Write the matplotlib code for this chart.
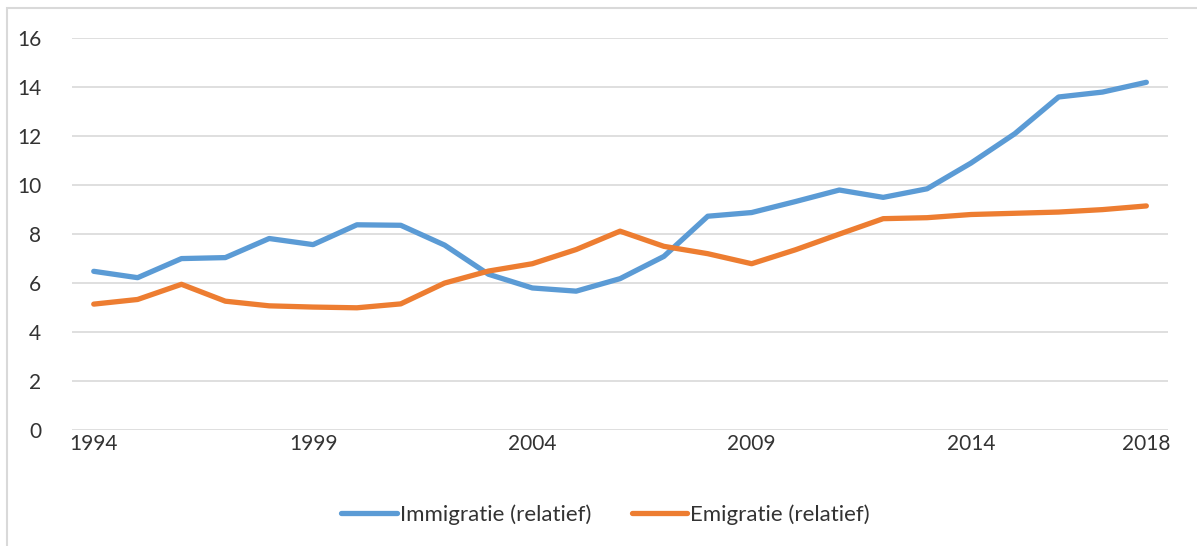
import matplotlib.pyplot as plt
from matplotlib.patches import Rectangle

years = list(range(1994, 2019))
immigratie = [6.48, 6.22, 7.0, 7.04, 7.82, 7.57, 8.38, 8.36, 7.55, 6.36,
              5.8, 5.67, 6.18, 7.09, 8.73, 8.88, 9.33, 9.8, 9.5, 9.85,
              10.9, 12.1, 13.6, 13.8, 14.2]
emigratie = [5.14, 5.33, 5.95, 5.26, 5.07, 5.02, 4.99, 5.15, 6.0, 6.49,
             6.79, 7.37, 8.12, 7.5, 7.2, 6.79, 7.36, 8.0, 8.63, 8.67,
             8.8, 8.85, 8.9, 9.0, 9.15]
x_ticks = [1994, 1999, 2004, 2009, 2014, 2018]
y_ticks = [0, 2, 4, 6, 8, 10, 12, 14, 16]

plt.rcParams["font.family"] = ["Lato", "DejaVu Sans"]
text_color = "#333333"

fig = plt.figure(figsize=(11.97, 5.46), dpi=100)
ax = fig.add_axes([0.060, 0.2125, 0.916, 0.7175])

ax.plot(years, immigratie, color="#5B9BD5", linewidth=3.8, solid_capstyle="round",
        solid_joinstyle="round", label="Immigratie (relatief)")
ax.plot(years, emigratie, color="#ED7D31", linewidth=3.8, solid_capstyle="round",
        solid_joinstyle="round", label="Emigratie (relatief)")

ax.set_xlim(1993.5, 2018.5)
ax.set_ylim(0, 16)
ax.set_xticks(x_ticks)
ax.set_yticks(y_ticks)
ax.tick_params(length=0, labelsize=15, colors=text_color)
ax.tick_params(axis="y", pad=22)
ax.tick_params(axis="x", pad=3)
ax.grid(axis="y", color="#D9D9D9", linewidth=1.2)
ax.set_axisbelow(True)
for side in ["top", "right", "bottom", "left"]:
    ax.spines[side].set_visible(False)

fig.legend(loc="center", bbox_to_anchor=(0.506, 0.057), ncol=2, frameon=False,
           fontsize=16, handlelength=2.5, handletextpad=0.15, columnspacing=1.8,
           labelcolor=text_color)

# outer chart frame (only left and top edges are visible in the image)
fig.patches.append(Rectangle((7 / 1197, -0.1), 1.2, 1 - 8 / 546 + 0.1,
                             transform=fig.transFigure, fill=False,
                             edgecolor="#D9D9D9", linewidth=1.5))

fig.savefig("out.png", dpi=100)
